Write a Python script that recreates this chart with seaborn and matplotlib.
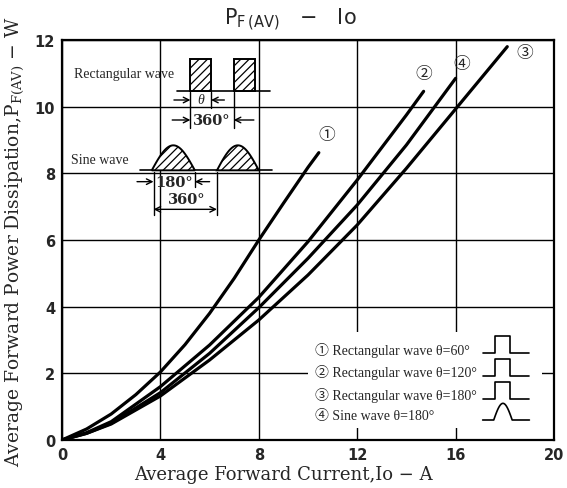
import numpy as np
import pandas as pd
import matplotlib
matplotlib.use("Agg")
import matplotlib.pyplot as plt
from matplotlib.patches import Rectangle, Polygon
import seaborn as sns

# values
io_1 = [0, 1, 2, 3, 4, 5, 6, 7, 8, 9, 10, 10.44]
pf_1 = [0, 0.33, 0.78, 1.36, 2.04, 2.86, 3.8, 4.85, 6.0, 7.1, 8.18, 8.62]

io_2 = [0, 1, 2, 4, 6, 8, 10, 12, 14, 14.7]
pf_2 = [0, 0.22, 0.55, 1.6, 2.85, 4.28, 5.95, 7.8, 9.75, 10.46]

io_3 = [0, 1, 2, 4, 6, 8, 10, 12, 14, 16, 18.1]
pf_3 = [0, 0.2, 0.48, 1.32, 2.4, 3.6, 4.95, 6.45, 8.15, 9.93, 11.8]

io_4 = [0, 1, 2, 4, 6, 8, 10, 12, 14, 16]
pf_4 = [0, 0.2, 0.5, 1.42, 2.6, 3.97, 5.45, 7.05, 8.85, 10.85]

curve_marks = ["①", "②", "③", "④"]
legend_texts = [
    "① Rectangular wave θ=60°",
    "② Rectangular wave θ=120°",
    "③ Rectangular wave θ=180°",
    "④ Sine wave θ=180°",
]
x_ticks = [0, 4, 8, 12, 16, 20]
y_ticks = [0, 2, 4, 6, 8, 10, 12]

sns.set_style("white")
plt.rcParams["font.family"] = ["Liberation Serif", "Noto Sans CJK JP", "DejaVu Sans"]
plt.rcParams["hatch.linewidth"] = 0.9

fig = plt.figure(figsize=(5.67, 4.89), dpi=100)
ax = fig.add_axes([62 / 567, 48 / 489, 492 / 567, 400 / 489])

series = [(io_1, pf_1), (io_2, pf_2), (io_3, pf_3), (io_4, pf_4)]
for xs, ys in series:
    sns.lineplot(x=xs, y=ys, ax=ax, color="black", linewidth=2.3, zorder=3)

ax.set_xlim(0, 20)
ax.set_ylim(0, 12)
ax.set_xticks(x_ticks)
ax.set_yticks(y_ticks)
ax.set_xticklabels([str(t) for t in x_ticks], family="DejaVu Sans", fontweight="bold", fontsize=10.5)
ax.set_yticklabels([str(t) for t in y_ticks], family="DejaVu Sans", fontweight="bold", fontsize=10.5)
ax.tick_params(direction="inout", length=6, width=1.2, pad=2)
ax.grid(True, color="black", linewidth=1.0, zorder=0)
ax.set_axisbelow(True)
for sp in ax.spines.values():
    sp.set_linewidth(1.6)
    sp.set_color("black")

# circled labels next to the curve ends
label_pos = [(10.75, 9.17), (14.7, 11.0), (18.8, 11.63), (16.24, 11.3)]
for mark, (lx, ly) in zip(curve_marks, label_pos):
    ax.text(lx, ly, mark, fontsize=12, ha="center", va="center", zorder=4,
            family=["Noto Sans CJK JP", "DejaVu Sans"])

# legend block, white box over the grid
ax.add_patch(Rectangle((10.0, 0.35), 9.5, 2.9, facecolor="white", edgecolor="none", zorder=1.5))
legend_rows = [2.73, 2.04, 1.35, 0.72]
for txt, ry in zip(legend_texts, legend_rows):
    ax.text(10.3, ry, txt, fontsize=10, ha="left", va="center", zorder=4)
for k, ry in enumerate(legend_rows):
    base = ry - 0.12
    top = ry + 0.38
    if k < 3:
        ax.plot([17.1, 17.6, 17.6, 18.2, 18.2, 19.0], [base, base, top, top, base, base],
                color="black", lw=1.2, zorder=4)
    else:
        hx = np.linspace(17.55, 18.3, 30)
        hy = base + (top - base) * np.sin(np.pi * (hx - 17.55) / 0.75)
        ax.plot(np.r_[17.1, hx, 19.0], np.r_[base, hy, base], color="black", lw=1.2, zorder=4)

# rectangular wave sketch
rw_base, rw_top = 10.47, 11.42
ax.plot([4.68, 8.47], [rw_base, rw_base], color="black", lw=1.2, zorder=2)
for x0, x1 in [(5.22, 6.06), (6.98, 7.86)]:
    ax.add_patch(Rectangle((x0, rw_base), x1 - x0, rw_top - rw_base, facecolor="white",
                           edgecolor="black", hatch="////", lw=1.4, zorder=2))
ax.text(4.57, 11.0, "Rectangular wave", fontsize=10, ha="right", va="center", zorder=4)
for xv, y0, y1 in [(5.22, 10.45, 9.35), (6.06, 10.45, 9.95), (6.98, 10.45, 9.35)]:
    ax.plot([xv, xv], [y0, y1], color="black", lw=1.0, zorder=2)
arrow = dict(arrowstyle="->", color="black", lw=1.0, shrinkA=0, shrinkB=0)
ax.annotate("", xy=(5.22, 10.2), xytext=(4.55, 10.2), arrowprops=arrow)
ax.annotate("", xy=(6.06, 10.2), xytext=(6.6, 10.2), arrowprops=arrow)
ax.text(5.64, 10.2, "θ", fontsize=10, ha="center", va="center", style="italic")
ax.annotate("", xy=(5.22, 9.6), xytext=(4.48, 9.6), arrowprops=arrow)
ax.annotate("", xy=(6.98, 9.6), xytext=(7.8, 9.6), arrowprops=arrow)
ax.text(6.1, 9.6, "360°", fontsize=10.5, ha="center", va="center", fontweight="bold",
        family="DejaVu Serif")

# sine wave sketch
sw_base, sw_top = 8.09, 8.84
ax.plot([3.17, 8.52], [sw_base, sw_base], color="black", lw=1.2, zorder=2)
for x0, x1 in [(3.65, 5.4), (6.3, 8.0)]:
    hx = np.linspace(x0, x1, 40)
    hy = sw_base + (sw_top - sw_base) * np.sin(np.pi * (hx - x0) / (x1 - x0))
    ax.add_patch(Polygon(np.c_[hx, hy], closed=True, facecolor="white", edgecolor="black",
                         hatch="////", lw=1.4, zorder=2))
ax.text(2.7, 8.4, "Sine wave", fontsize=10, ha="right", va="center", zorder=4)
for xv, y0, y1 in [(3.72, 8.05, 6.75), (5.4, 8.05, 7.6), (6.3, 8.05, 6.75)]:
    ax.plot([xv, xv], [y0, y1], color="black", lw=1.0, zorder=2)
ax.annotate("", xy=(3.72, 7.75), xytext=(3.05, 7.75), arrowprops=arrow)
ax.annotate("", xy=(5.4, 7.75), xytext=(6.0, 7.75), arrowprops=arrow)
ax.text(4.55, 7.75, "180°", fontsize=10.5, ha="center", va="center", fontweight="bold",
        family="DejaVu Serif")
ax.annotate("", xy=(3.72, 6.92), xytext=(6.3, 6.92),
            arrowprops=dict(arrowstyle="<->", color="black", lw=1.0, shrinkA=0, shrinkB=0))
ax.text(5.05, 7.22, "360°", fontsize=10.5, ha="center", va="center", fontweight="bold",
        family="DejaVu Serif")

# titles and axis labels
fig.text(290 / 567, 1 - 20 / 489, r"P$_{\rm F\,(AV)}$   −   Io", fontsize=15, ha="center",
         va="center", family="DejaVu Sans", math_fontfamily="dejavusans")
fig.text(283 / 567, 1 - 475 / 489, "Average Forward Current,Io − A", fontsize=13,
         ha="center", va="center", family="DejaVu Serif")
fig.text(15 / 567, 1 - 242 / 489, r"Average Forward Power Dissipation,P$_{\rm F(AV)}$ − W",
         fontsize=13.5, ha="center", va="center", rotation=90, family="DejaVu Serif",
         math_fontfamily="dejavuserif")

fig.savefig("out.png", dpi=100)
